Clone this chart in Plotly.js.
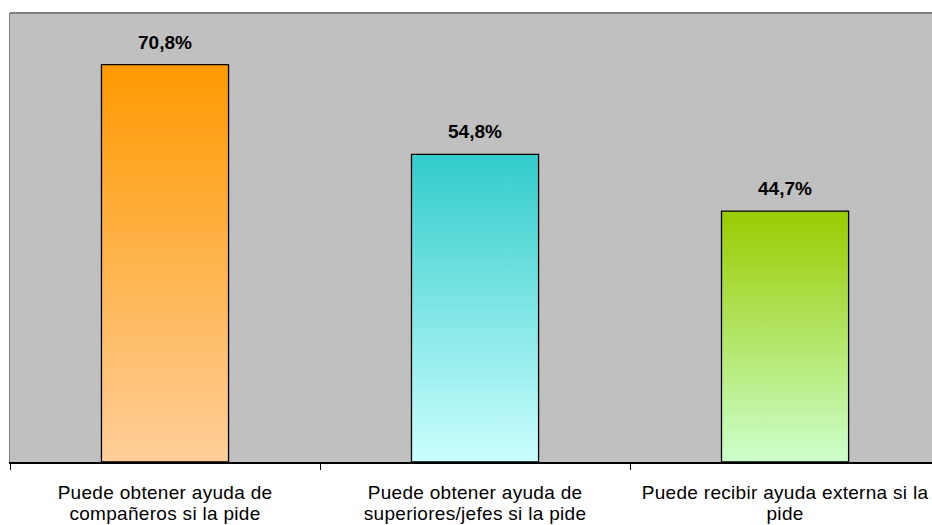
<!DOCTYPE html>
<html>
<head>
<meta charset="utf-8">
<script src="https://cdn.plot.ly/plotly-3.0.1.min.js"></script>
<style>
html,body{margin:0;padding:0;background:#fff;overflow:hidden;}
#chart{width:932px;height:525px;}
.xtick text{letter-spacing:0.3px;}
</style>
</head>
<body>
<div id="chart"></div>
<script>
const categories = [
  "Puede obtener ayuda de<br>compañeros si la pide",
  "Puede obtener ayuda de<br>superiores/jefes si la pide",
  "Puede recibir ayuda externa si la<br>pide"
];
const values = [70.8, 54.8, 44.7];
const gradTop = ["rgb(255,153,0)", "rgb(51,204,204)", "rgb(153,204,0)"];
const gradBottom = ["rgb(255,206,153)", "rgb(204,255,255)", "rgb(204,255,204)"];

const trace = {
  type: "bar",
  x: categories,
  y: values,
  width: 0.41,
  marker: {color: gradTop, line: {color: "#000", width: 1.3}},
  hoverinfo: "none"
};

const annotations = categories.map((c, i) => ({
  x: c, y: values[i], xref: "x", yref: "y",
  text: "<b>" + values[i].toFixed(1).replace(".", ",") + "%</b>",
  showarrow: false, yanchor: "bottom", yshift: 10,
  font: {family: "Liberation Sans, Arial, sans-serif", size: 19, color: "#000"}
}));

const layout = {
  width: 932, height: 525,
  margin: {l: 10, r: 0, t: 13, b: 63},
  paper_bgcolor: "#fff",
  plot_bgcolor: "#c0c0c0",
  showlegend: false,
  font: {family: "Liberation Sans, Arial, sans-serif", size: 19, color: "#000"},
  xaxis: {
    type: "category",
    range: [-0.5, 2.474],
    tickson: "boundaries",
    ticks: "outside", ticklen: 6, tickcolor: "#000", tickwidth: 1,
    ticklabelstandoff: 13,
    showline: true, linecolor: "#000", linewidth: 1.5,
    showgrid: false, zeroline: false,
    tickfont: {size: 19, color: "#000"}
  },
  yaxis: {
    range: [0, 80],
    showticklabels: false, ticks: "",
    showgrid: false, zeroline: false,
    showline: true, linecolor: "#808080", linewidth: 1.5
  },
  shapes: [
    {type: "line", xref: "paper", yref: "paper", x0: 0, x1: 1, y0: 1, y1: 1,
     line: {color: "#808080", width: 2}}
  ],
  annotations: annotations
};

Plotly.newPlot("chart", [trace], layout, {staticPlot: true, displayModeBar: false}).then(gd => {
  const svg = gd.querySelector("svg.main-svg");
  const ns = "http://www.w3.org/2000/svg";
  let defs = svg.querySelector("defs");
  if (!defs) { defs = document.createElementNS(ns, "defs"); svg.insertBefore(defs, svg.firstChild); }
  gradTop.forEach((top, i) => {
    const g = document.createElementNS(ns, "linearGradient");
    g.setAttribute("id", "bargrad" + i);
    g.setAttribute("x1", "0"); g.setAttribute("y1", "0");
    g.setAttribute("x2", "0"); g.setAttribute("y2", "1");
    const s1 = document.createElementNS(ns, "stop");
    s1.setAttribute("offset", "0"); s1.setAttribute("stop-color", top);
    const s2 = document.createElementNS(ns, "stop");
    s2.setAttribute("offset", "1"); s2.setAttribute("stop-color", gradBottom[i]);
    g.appendChild(s1); g.appendChild(s2);
    defs.appendChild(g);
  });
  gd.querySelectorAll(".bars .point path").forEach((p, i) => {
    p.style.fill = "url(#bargrad" + i + ")";
  });
  // tighter line spacing for the two-line category labels
  gd.querySelectorAll(".xtick text tspan.line").forEach(t => {
    const dy = parseFloat(t.getAttribute("dy"));
    if (dy) t.setAttribute("dy", (dy / 1.3 * 1.08) + "em");
  });
});
</script>
</body>
</html>
